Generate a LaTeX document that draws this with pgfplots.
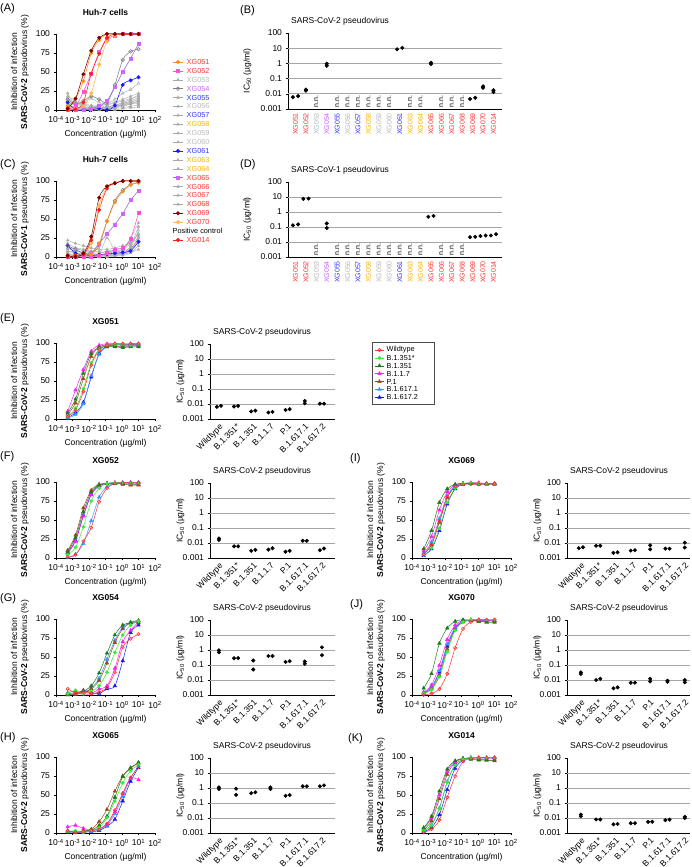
\documentclass[border=0pt]{standalone}
\usepackage{fontspec}
\setmainfont{Liberation Sans}
\usepackage{pgfplots}
\usepackage{pgfplotstable}
\pgfplotsset{compat=1.18}

\definecolor{tRed}{HTML}{FF3333}
\definecolor{tGray}{HTML}{B8B8B8}
\definecolor{tBlue}{HTML}{3333FF}
\definecolor{tGold}{HTML}{FFB300}
\definecolor{tViolet}{HTML}{CC66FF}
\definecolor{cOrange}{HTML}{FF8C1A}
\definecolor{cPink}{HTML}{FF4FD8}
\definecolor{cViolet}{HTML}{CC66FF}
\definecolor{cPurple}{HTML}{9966CC}
\definecolor{cMaroon}{HTML}{7A0000}
\definecolor{cLtOrange}{HTML}{FFB84D}
\definecolor{cRed}{HTML}{FF1A1A}
\definecolor{cBlue}{HTML}{1A1AFF}
\definecolor{cGray}{HTML}{A8A8A8}
\definecolor{vWT}{HTML}{FF3030}
\definecolor{vS1}{HTML}{33EE33}
\definecolor{vB1}{HTML}{1A7A1A}
\definecolor{vUK}{HTML}{FF1AFF}
\definecolor{vP1}{HTML}{9A4A1A}
\definecolor{vK1}{HTML}{3399FF}
\definecolor{vK2}{HTML}{1A1AEE}

\newcommand\fs{\fontsize{8.5}{10}\selectfont}
\newcommand\inh[1]{Inhibition of infection\\\textbf{#1} pseudovirus (\%)}

\tikzset{
 zDots/.style={only marks, mark=*, mark size=1.8pt, black},
 zPv/.style={smooth, line width=0.5pt, mark size=1.6pt, mark options={solid}},
 zWT/.style={zPv, vWT, mark=o, mark options={line width=0.6pt}},
 zS1/.style={zPv, vS1, mark=*},
 zB1/.style={zPv, vB1, mark=triangle*, mark size=2pt},
 zUK/.style={zPv, vUK, mark=triangle*, mark size=2pt},
 zP1/.style={zPv, vP1, mark=triangle*, mark size=2pt},
 zK1/.style={zPv, vK1, mark=triangle*, mark size=2pt},
 zK2/.style={zPv, vK2, mark=triangle*, mark size=2pt},
 zAS/.style={smooth, line width=0.55pt, mark size=1.7pt, mark options={solid}},
 zGr/.style={zAS, cGray, mark=triangle*, mark size=1.5pt, line width=0.4pt},
 z58/.style={zAS, cGray, mark=triangle, mark size=1.8pt, line width=0.4pt},
 z54/.style={zAS, gray, mark=o, mark size=1.8pt},
 z51/.style={zAS, cOrange, mark=*},
 z52/.style={zAS, cPink, mark=square*, mark size=1.5pt},
 z61/.style={zAS, cBlue, mark=*},
 z65/.style={zAS, cPurple, mark=square*, mark size=1.5pt, mark options={fill=cViolet, draw=cViolet}},
 z69/.style={zAS, cMaroon, mark=*},
 z70/.style={zAS, cLtOrange, mark=*},
 z14/.style={zAS, cRed, mark=*},
 lgA/.style={anchor=west, inner sep=0.5pt, font=\fontsize{7.3}{8}\selectfont},
 nnS/.style={rotate=90, anchor=west, font=\fontsize{7}{8}\selectfont, inner sep=0.5pt},
}

\pgfplotsset{
 zBase/.style={scale only axis, axis lines=left, axis line style={-, line width=0.6pt},
   tick align=outside, major tick length=2.5pt, minor tick length=1.4pt,
   tick style={black, line width=0.5pt}, tick label style={font=\fs}, label style={font=\fs},
   clip=false},
 zCurve/.style={zBase, width=99pt, height=76pt, xmin=1e-4, xmax=1e2, ymin=0, ymax=100,
   ytick={0,25,50,75,100}, yticklabels={0,25,50,75,100}, xtick={1e-4,1e-3,1e-2,1e-1,1,10,100},
   xticklabels={10\textsuperscript{-4},10\textsuperscript{-3},10\textsuperscript{-2},10\textsuperscript{-1},10\textsuperscript{0},10\textsuperscript{1},10\textsuperscript{2}},
   minor xtick={2e-4,3e-4,4e-4,5e-4,6e-4,7e-4,8e-4,9e-4,2e-3,3e-3,4e-3,5e-3,6e-3,7e-3,8e-3,9e-3,2e-2,3e-2,4e-2,5e-2,6e-2,7e-2,8e-2,9e-2,0.2,0.3,0.4,0.5,0.6,0.7,0.8,0.9,2,3,4,5,6,7,8,9,20,30,40,50,60,70,80,90},
   xlabel={Concentration (µg/ml)}, ylabel style={align=center, font=\fs},
   title style={at={(0.5,1)}, anchor=south, yshift=9pt, font=\bfseries\fs}},
 zIc/.style={zBase, ymin=1e-3, ymax=100, ytick={1e-3,1e-2,1e-1,1,10,100},
   yticklabels={0.001,0.01,0.1,1,10,100}, yminorticks=false,
   extra y ticks={1e-2,1e-1,1,10}, extra y tick labels={},
   extra y tick style={grid=major, major tick length=0pt},
   major grid style={black!35, line width=0.7pt}, xtick style={draw=none},
   ylabel={IC\textsubscript{50} (µg/ml)},
   title style={at={(0,1)}, anchor=south west, inner sep=0pt, xshift=3pt, yshift=1.5pt, font=\fs}},
 zIcV/.style={zIc, height=75pt, xtick={0,...,6},
   xticklabels={Wildtype,B.1.351*,B.1.351,B.1.1.7,P.1,B.1.617.1,B.1.617.2},
   xticklabel style={rotate=45, anchor=north east, font=\fs, inner sep=1pt},
   title={SARS-CoV-2 pseudovirus}},
 zIcL/.style={zIcV, width=125pt, xmin=-0.52, xmax=6.76,
   ylabel style={at={(axis description cs:-0.176,0.5)}, anchor=south}},
 zIcR/.style={zIcV, width=123pt, xmin=-0.8, xmax=6.3,
   ylabel style={at={(axis description cs:-0.179,0.5)}, anchor=south}},
 zIcX/.style={zIc, width=214pt, height=76pt, xmin=-0.72, xmax=19.82, xtick={0,...,19},
   xticklabels={\textcolor{tRed}{XG051},\textcolor{tRed}{XG052},\textcolor{tGray}{XG053},\textcolor{tViolet}{XG054},\textcolor{tBlue}{XG055},\textcolor{tGray}{XG056},\textcolor{tBlue}{XG057},\textcolor{tGold}{XG058},\textcolor{tGray}{XG059},\textcolor{tGray}{XG060},\textcolor{tBlue}{XG061},\textcolor{tGold}{XG063},\textcolor{tGold}{XG064},\textcolor{tRed}{XG065},\textcolor{tRed}{XG066},\textcolor{tRed}{XG067},\textcolor{tRed}{XG068},\textcolor{tRed}{XG069},\textcolor{tRed}{XG070},\textcolor{tRed}{XG014}},
   xticklabel style={rotate=90, anchor=east, font=\fontsize{7}{8}\selectfont, inner sep=1.5pt},
   ylabel style={at={(axis description cs:-0.155,0.5)}, anchor=south}},
}

\newcommand\variants[1]{%
 \addplot[zK2] table[x=x,y=k2]{#1};
 \addplot[zK1] table[x=x,y=k1]{#1};
 \addplot[zP1] table[x=x,y=p1]{#1};
 \addplot[zUK] table[x=x,y=uk]{#1};
 \addplot[zB1] table[x=x,y=b1]{#1};
 \addplot[zS1] table[x=x,y=s1]{#1};
 \addplot[zWT] table[x=x,y=wt]{#1};
}
\newcommand\antibodies[1]{%
 \addplot[zGr] table[x=x,y=c53]{#1};
 \addplot[zGr] table[x=x,y=c55]{#1};
 \addplot[zGr] table[x=x,y=c56]{#1};
 \addplot[zGr] table[x=x,y=c57]{#1};
 \addplot[zGr] table[x=x,y=c59]{#1};
 \addplot[zGr] table[x=x,y=c60]{#1};
 \addplot[zGr] table[x=x,y=c63]{#1};
 \addplot[zGr] table[x=x,y=c64]{#1};
 \addplot[zGr] table[x=x,y=c66]{#1};
 \addplot[zGr] table[x=x,y=c67]{#1};
 \addplot[zGr] table[x=x,y=c68]{#1};
 \addplot[z58] table[x=x,y=c58]{#1};
 \addplot[z61] table[x=x,y=c61]{#1};
 \addplot[z54] table[x=x,y=c54]{#1};
 \addplot[z65] table[x=x,y=c65]{#1};
 \addplot[z52] table[x=x,y=c52]{#1};
 \addplot[z70] table[x=x,y=c70]{#1};
 \addplot[z51] table[x=x,y=c51]{#1};
 \addplot[z14] table[x=x,y=c14]{#1};
 \addplot[z69] table[x=x,y=c69]{#1};
}
\newcommand\legA[3]{\addplot[#1, mark repeat=2, mark phase=2] coordinates {(173,#2)(178,#2)(183,#2)};
 \node[lgA] at (axis cs:186,#2) {#3};}
\newcommand\legV[3]{\addplot[#1, mark repeat=2, mark phase=2] coordinates {(375,#2)(379.5,#2)(384,#2)};
 \node[lgA] at (axis cs:386,#2) {#3};}

\pgfplotstableread{
x c51 c52 c53 c54 c55 c56 c57 c58 c59 c60 c61 c63 c64 c65 c66 c67 c68 c69 c70 c14
0.000508 5 2 22 14 15 5 8 12 3 18 10 0 6 0 2 10 4 2 0 0
0.00152 15 5 5 8 10 3 2 6 1 12 0 1 4 0 0 7 2 15 2 1
0.00457 38 24 3 12 8 2 4 10 2 5 0 0 3 0 1 6 1 47 5 10
0.0137 75 48 2 18 6 1 3 15 0 3 0 2 5 2 0 5 2 78 22 48
0.0412 92 76 5 14 4 2 1 10 1 2 2 1 6 5 0 3 3 95 60 74
0.123 100 93 8 10 5 3 2 8 2 2 0 1 7 12 1 3 4 100 90 95
0.370 100 98 10 33 6 5 4 14 3 4 6 2 9 30 0 5 6 100 98 100
1.11 100 100 14 66 10 8 6 22 5 7 33 3 12 50 2 6 9 100 100 100
3.33 100 100 18 77 14 12 10 27 8 10 39 5 15 68 3 8 11 100 100 100
10 100 100 22 80 20 16 14 35 12 8 43 6 18 87 4 10 13 100 100 100
}\tA
\pgfplotstableread{
x c51 c52 c53 c54 c55 c56 c57 c58 c59 c60 c61 c63 c64 c65 c66 c67 c68 c69 c70 c14
0.000508 0 0 22 15 10 5 18 8 3 12 15 0 6 0 2 15 4 2 3 0
0.00152 2 0 18 10 12 3 12 5 2 8 5 1 8 0 0 10 2 0 0 2
0.00457 3 0 15 5 10 2 8 4 1 6 3 2 5 2 1 9 2 5 3 3
0.0137 4 0 12 5 6 2 5 3 1 4 2 1 3 5 0 8 3 27 18 22
0.0412 18 2 10 15 5 3 3 2 0 3 3 1 2 18 0 7 2 78 68 62
0.123 47 5 10 47 8 25 3 2 1 3 4 2 5 30 0 6 2 93 92 90
0.370 72 10 12 74 10 8 4 3 2 4 5 2 7 43 1 7 3 97 98 97
1.11 86 12 15 88 12 10 6 5 4 5 6 3 10 57 2 8 5 100 100 100
3.33 95 24 18 95 20 25 10 12 8 15 8 6 18 75 5 12 10 100 100 100
10 98 58 25 98 30 45 20 35 28 40 20 10 30 87 15 22 25 100 100 100
}\tC
\pgfplotstableread{
x wt s1 b1 uk p1 k1 k2
0.000508 3 4 8 10 6 1 2
0.00152 12 14 26 38 21 6 8
0.00457 36 40 60 65 53 20 22
0.0137 71 74 86 89 82 57 55
0.0412 91 92 94 97 95 85 86
0.123 97 97 95 99 97 95 96
0.370 99 98 95 99 96 97 98
1.11 99 98 94 98 95 97 98
3.33 99 97 95 99 96 97 98
10 99 98 95 99 96 97 98
}\tE
\pgfplotstableread{
x wt s1 b1 uk p1 k1 k2
0.000508 1 4 8 6 10 1 7
0.00152 4 14 27 22 30 5 23
0.00457 22 41 61 55 66 19 56
0.0137 40 75 87 83 89 49 84
0.0412 74 92 96 95 97 80 95
0.123 92 98 98 98 98 94 98
0.370 98 99 98 99 98 98 99
1.11 99 99 98 99 97 99 99
3.33 99 98 97 99 96 99 99
10 99 98 97 99 96 99 99
}\tF
\pgfplotstableread{
x wt s1 b1 uk p1 k1 k2
0.000508 8 2 2 3 0 0 2
0.00152 3 6 3 5 1 1 1
0.00457 4 2 5 1 3 3 6
0.0137 2 5 12 2 8 9 3
0.0412 4 12 29 8 19 22 2
0.123 10 30 55 12 42 47 8
0.370 30 56 79 35 69 72 12
1.11 63 79 92 70 87 89 45
3.33 74 92 95 85 95 96 82
10 80 97 95 96 98 98 92
}\tG
\pgfplotstableread{
x wt s1 b1 uk p1 k1 k2
0.000508 3 2 3 8 2 2 1
0.00152 1 3 1 10 1 1 1
0.00457 2 1 3 6 2 1 1
0.0137 3 3 4 4 5 2 2
0.0412 5 7 10 6 15 4 3
0.123 12 20 22 12 31 10 9
0.370 30 42 47 28 55 25 18
1.11 52 66 74 52 75 48 42
3.33 73 82 85 72 86 72 68
10 87 90 93 70 92 88 86
}\tH
\pgfplotstableread{
x wt s1 b1 uk p1 k1 k2
0.000508 5 4 12 9 5 6 3
0.00152 18 13 36 28 17 21 12
0.00457 49 39 73 63 47 52 36
0.0137 80 73 91 87 79 82 71
0.0412 94 92 97 96 94 95 91
0.123 97 98 98 98 97 98 97
0.370 97 99 98 99 98 98 98
1.11 97 98 98 99 97 98 98
3.33 98 98 98 98 97 98 98
10 98 98 98 98 97 98 98
}\tI
\pgfplotstableread{
x wt s1 b1 uk p1 k1 k2
0.000508 0 2 9 4 2 3 3
0.00152 2 7 28 13 8 10 10
0.00457 8 24 68 39 26 32 30
0.0137 28 57 88 73 60 67 64
0.0412 62 85 97 92 86 89 88
0.123 87 96 99 98 96 97 97
0.370 96 99 98 99 98 99 98
1.11 99 99 97 99 97 98 98
3.33 99 99 96 98 96 98 98
10 99 99 96 98 96 98 98
}\tJ
\pgfplotstableread{
x wt s1 b1 uk p1 k1 k2
0.000508 1 3 7 6 4 3 2
0.00152 5 10 22 20 16 11 7
0.00457 17 32 55 50 45 33 24
0.0137 47 67 84 81 77 68 57
0.0412 75 89 95 94 93 90 85
0.123 94 97 98 98 98 97 96
0.370 98 99 97 99 98 99 99
1.11 99 99 96 99 97 99 99
3.33 99 99 96 99 96 99 99
10 99 99 96 99 95 99 99
}\tK

\begin{document}
\begin{tikzpicture}
% ---------------- (A)
\begin{semilogxaxis}[zCurve, at={(56pt,757pt)}, anchor=south west, title={Huh-7 cells},
  ylabel={\inh{SARS-CoV-2}}]
\antibodies{\tA}
\end{semilogxaxis}
% ---------------- (B)
\begin{semilogyaxis}[zIcX, at={(288pt,758pt)}, anchor=south west, title={SARS-CoV-2 pseudovirus}]
\addplot[zDots] coordinates {(-0.25,0.006)(0.25,0.007)(1,0.016)(1,0.019)(3,0.7)(3,0.95)
 (9.75,8.5)(10.25,10.5)(13,0.9)(13,1.1)(16.75,0.0045)(17.25,0.0055)(18,0.025)(18,0.031)(19,0.013)(19,0.017)};
\node[nnS] at (axis cs:2,0.0012) {n.n.};
\node[nnS] at (axis cs:4,0.0012) {n.n.};
\node[nnS] at (axis cs:5,0.0012) {n.n.};
\node[nnS] at (axis cs:6,0.0012) {n.n.};
\node[nnS] at (axis cs:7,0.0012) {n.n.};
\node[nnS] at (axis cs:8,0.0012) {n.n.};
\node[nnS] at (axis cs:9,0.0012) {n.n.};
\node[nnS] at (axis cs:11,0.0012) {n.n.};
\node[nnS] at (axis cs:12,0.0012) {n.n.};
\node[nnS] at (axis cs:14,0.0012) {n.n.};
\node[nnS] at (axis cs:15,0.0012) {n.n.};
\node[nnS] at (axis cs:16,0.0012) {n.n.};
\end{semilogyaxis}
% ---------------- (C)
\begin{semilogxaxis}[zCurve, at={(56pt,610pt)}, anchor=south west, title={Huh-7 cells},
  ylabel={\inh{SARS-CoV-1}}]
\antibodies{\tC}
\end{semilogxaxis}
% ---------------- (D)
\begin{semilogyaxis}[zIcX, height=75pt, at={(288pt,610pt)}, anchor=south west, title={SARS-CoV-1 pseudovirus}]
\addplot[zDots] coordinates {(-0.25,0.13)(0.25,0.15)(0.75,7.5)(1.25,7.8)(3,0.17)(3,0.085)
 (12.75,0.48)(13.25,0.55)(16.75,0.021)(17.25,0.022)(17.75,0.025)(18.25,0.027)(18.75,0.027)(19.25,0.033)};
\node[nnS] at (axis cs:2,0.0012) {n.n.};
\node[nnS] at (axis cs:4,0.0012) {n.n.};
\node[nnS] at (axis cs:5,0.0012) {n.n.};
\node[nnS] at (axis cs:6,0.0012) {n.n.};
\node[nnS] at (axis cs:7,0.0012) {n.n.};
\node[nnS] at (axis cs:8,0.0012) {n.n.};
\node[nnS] at (axis cs:9,0.0012) {n.n.};
\node[nnS] at (axis cs:10,0.0012) {n.n.};
\node[nnS] at (axis cs:11,0.0012) {n.n.};
\node[nnS] at (axis cs:12,0.0012) {n.n.};
\node[nnS] at (axis cs:14,0.0012) {n.n.};
\node[nnS] at (axis cs:15,0.0012) {n.n.};
\node[nnS] at (axis cs:16,0.0012) {n.n.};
\end{semilogyaxis}
% ---------------- (E)
\begin{semilogxaxis}[zCurve, at={(56pt,448pt)}, anchor=south west, title={XG051}, ylabel={\inh{SARS-CoV-2}}]
\variants{\tE}
\end{semilogxaxis}
\begin{semilogyaxis}[zIcL, at={(210pt,448pt)}, anchor=south west]
\addplot[zDots] coordinates {(-0.12,0.0065)(0.12,0.0075)(0.88,0.0068)(1.12,0.0075)(1.88,0.0032)(2.12,0.0036)(2.88,0.0027)(3.12,0.003)(3.88,0.004)(4.12,0.0045)(5,0.011)(5,0.016)(5.88,0.0105)(6.12,0.0105)};
\end{semilogyaxis}
% ---------------- (F)
\begin{semilogxaxis}[zCurve, at={(56pt,309pt)}, anchor=south west, title={XG052}, ylabel={\inh{SARS-CoV-2}}]
\variants{\tF}
\end{semilogxaxis}
\begin{semilogyaxis}[zIcL, at={(210pt,309pt)}, anchor=south west]
\addplot[zDots] coordinates {(0,0.016)(0,0.02)(0.88,0.006)(1.12,0.006)(1.88,0.003)(2.12,0.0035)(2.88,0.0036)(3.12,0.0045)(3.88,0.0026)(4.12,0.003)(4.88,0.014)(5.12,0.014)(5.88,0.0033)(6.12,0.0043)};
\end{semilogyaxis}
% ---------------- (G)
\begin{semilogxaxis}[zCurve, at={(56pt,172pt)}, anchor=south west, title={XG054}, ylabel={\inh{SARS-CoV-2}}]
\variants{\tG}
\end{semilogxaxis}
\begin{semilogyaxis}[zIcL, at={(210pt,172pt)}, anchor=south west]
\addplot[zDots] coordinates {(0,0.7)(0,0.95)(0.88,0.28)(1.12,0.29)(2,0.2)(2,0.05)(2.88,0.4)(3.12,0.4)(3.88,0.16)(4.12,0.18)(5,0.12)(5,0.17)(6,1.5)(6,0.45)};
\end{semilogyaxis}
% ---------------- (H)
\begin{semilogxaxis}[zCurve, at={(56pt,34pt)}, anchor=south west, title={XG065}, ylabel={\inh{SARS-CoV-2}}]
\variants{\tH}
\end{semilogxaxis}
\begin{semilogyaxis}[zIcL, at={(210pt,34pt)}, anchor=south west]
\addplot[zDots] coordinates {(0,0.85)(0,1.1)(1,0.9)(1,0.35)(1.88,0.45)(2.12,0.52)(3,0.85)(3,1.1)(3.88,0.3)(4.12,0.34)(4.88,1.3)(5.12,1.3)(5.88,1.3)(6.12,1.5)};
\end{semilogyaxis}
% ---------------- (I)
\begin{semilogxaxis}[zCurve, at={(412pt,309pt)}, anchor=south west, title={XG069}, ylabel={\inh{SARS-CoV-2}}]
\variants{\tI}
\end{semilogxaxis}
\begin{semilogyaxis}[zIcR, at={(567pt,309pt)}, anchor=south west]
\addplot[zDots] coordinates {(-0.12,0.0045)(0.12,0.0052)(0.88,0.0065)(1.12,0.0066)(1.88,0.0022)(2.12,0.0024)(2.88,0.0031)(3.12,0.0033)(4,0.007)(4,0.0038)(4.88,0.0042)(5.12,0.0042)(6,0.0105)(6,0.005)};
\end{semilogyaxis}
% ---------------- (J)
\begin{semilogxaxis}[zCurve, at={(412pt,172pt)}, anchor=south west, title={XG070}, ylabel={\inh{SARS-CoV-2}}]
\variants{\tJ}
\end{semilogxaxis}
\begin{semilogyaxis}[zIcR, at={(567pt,172pt)}, anchor=south west]
\addplot[zDots] coordinates {(0,0.025)(0,0.032)(0.88,0.01)(1.12,0.012)(1.88,0.0028)(2.12,0.0032)(2.88,0.0065)(3.12,0.0066)(4,0.012)(4,0.008)(5,0.009)(5,0.0075)(6,0.01)(6,0.007)};
\end{semilogyaxis}
% ---------------- (K)
\begin{semilogxaxis}[zCurve, at={(412pt,34pt)}, anchor=south west, title={XG014}, ylabel={\inh{SARS-CoV-2}}]
\variants{\tK}
\end{semilogxaxis}
\begin{semilogyaxis}[zIcR, at={(567pt,34pt)}, anchor=south west]
\addplot[zDots] coordinates {(0,0.013)(0,0.017)(0.88,0.008)(1.12,0.008)(1.88,0.0038)(2.12,0.004)(2.88,0.0045)(3.12,0.0045)(3.88,0.0055)(4.12,0.0056)(4.88,0.0072)(5.12,0.0078)(6,0.01)(6,0.012)};
\end{semilogyaxis}
% ---------------- legends (overlay axis in page units)
\begin{axis}[hide axis, scale only axis, width=691pt, height=867pt, xmin=0, xmax=691, ymin=0, ymax=867,
  at={(0pt,0pt)}, anchor=south west, clip=false]
\legA{z51}{805}{\textcolor{tRed}{XG051}}
\legA{z52}{796.1}{\textcolor{tRed}{XG052}}
\legA{zGr}{787.2}{\textcolor{tGray}{XG053}}
\legA{z54}{778.3}{\textcolor{tViolet}{XG054}}
\legA{zGr}{769.4}{\textcolor{tBlue}{XG055}}
\legA{zGr}{760.5}{\textcolor{tGray}{XG056}}
\legA{zGr}{751.6}{\textcolor{tBlue}{XG057}}
\legA{z58}{742.7}{\textcolor{tGold}{XG058}}
\legA{zGr}{733.8}{\textcolor{tGray}{XG059}}
\legA{zGr}{724.9}{\textcolor{tGray}{XG060}}
\legA{z61}{716}{\textcolor{tBlue}{XG061}}
\legA{zGr}{707.1}{\textcolor{tGold}{XG063}}
\legA{zGr}{698.2}{\textcolor{tGold}{XG064}}
\legA{z65}{689.3}{\textcolor{tRed}{XG065}}
\legA{zGr}{680.4}{\textcolor{tRed}{XG066}}
\legA{zGr}{671.5}{\textcolor{tRed}{XG067}}
\legA{zGr}{662.6}{\textcolor{tRed}{XG068}}
\legA{z69}{653.7}{\textcolor{tRed}{XG069}}
\legA{z70}{644.8}{\textcolor{tRed}{XG070}}
\node[lgA] at (axis cs:172,635.9) {Positive control};
\legA{z14}{627}{\textcolor{tRed}{XG014}}
\draw[black!70, line width=0.6pt] (axis cs:372,463) rectangle (axis cs:434,525);
\legV{zWT}{517}{Wildtype}
\legV{zS1}{509.1}{B.1.351*}
\legV{zB1}{501.2}{B.1.351}
\legV{zUK}{493.3}{B.1.1.7}
\legV{zP1}{485.4}{P.1}
\legV{zK1}{477.5}{B.1.617.1}
\legV{zK2}{469.6}{B.1.617.2}
\end{axis}
% ---------------- panel letters
\begin{scope}[every node/.style={anchor=north west, inner sep=0pt, font=\fontsize{11}{12}\selectfont}]
\node at (0pt,864pt) {(A)};
\node at (240pt,862pt) {(B)};
\node at (0pt,708pt) {(C)};
\node at (240pt,708pt) {(D)};
\node at (0pt,554pt) {(E)};
\node at (0pt,416pt) {(F)};
\node at (0pt,274pt) {(G)};
\node at (0pt,135pt) {(H)};
\node at (350pt,414pt) {(I)};
\node at (350pt,268pt) {(J)};
\node at (348pt,134pt) {(K)};
\end{scope}
\pgfresetboundingbox
\path[use as bounding box] (0pt,0pt) rectangle (691pt,867pt);
\end{tikzpicture}
\end{document}
